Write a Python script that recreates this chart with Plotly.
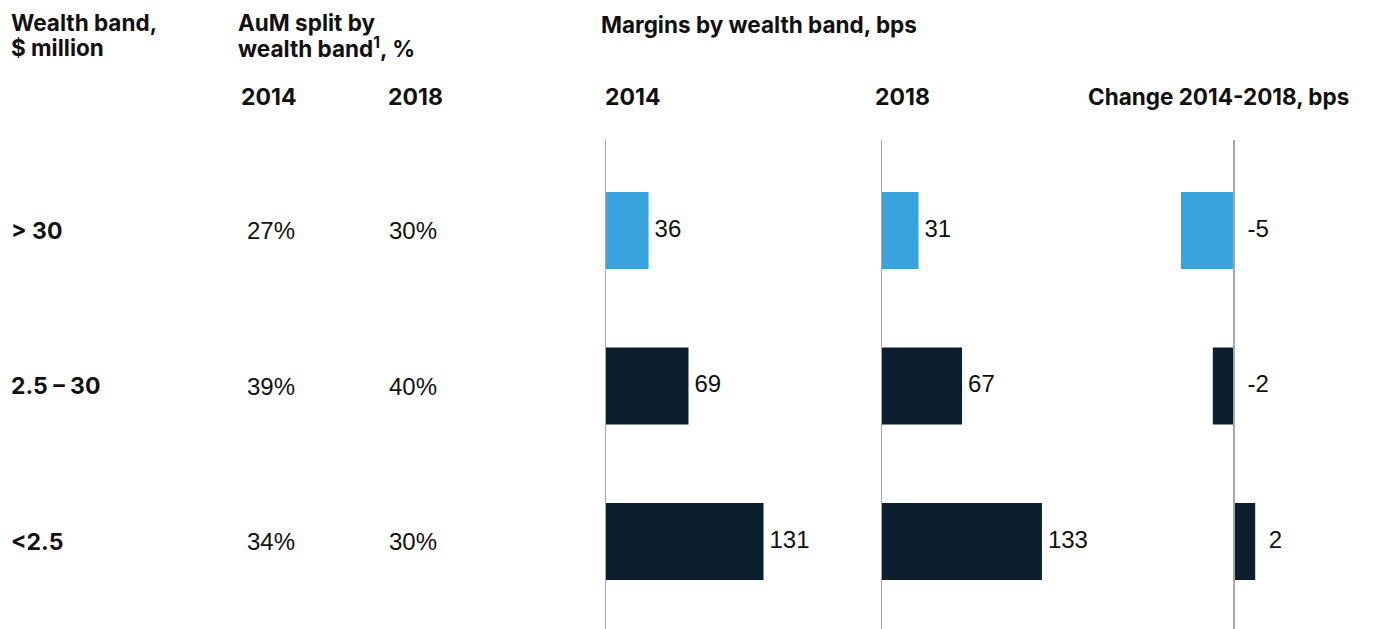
import plotly.graph_objects as go

bands = ["> 30", "2.5 – 30", "<2.5"]
aum_2014 = [27, 39, 34]
aum_2018 = [30, 40, 30]
margin_2014 = [36, 69, 131]
margin_2018 = [31, 67, 133]
change = [-5, -2, 2]
bar_colors = ["#38A3DC", "#0C1F2D", "#0C1F2D"]

# page body offset of the browser (8px) -> work in reference pixel coords
OFF = 8
W, H = 1375 - OFF, 629 - OFF
BOLD = "Inter"
REG = "Liberation Sans"
TXT = "#111111"


def px(x):
    return (x - OFF) / W


def py(y):
    return 1 - (y - OFF) / H


fig = go.Figure()

scale = 1.21  # px per bps
ytop, ybot = 140, 629
row_px = 155.5
first_center = 230.5
y0_val = -(first_center - ytop) / row_px
y1_val = y0_val + (ybot - ytop) / row_px

xaxes = {}
for ax, vals, zero_px in [("x", margin_2014, 605), ("x2", margin_2018, 881)]:
    width_px = 240
    xaxes[ax] = dict(domain=[px(zero_px), px(zero_px + width_px)],
                     range=[0, width_px / scale])
    fig.add_trace(go.Bar(
        x=vals, y=bands, orientation="h", xaxis=ax, yaxis="y",
        marker=dict(color=bar_colors, line=dict(width=0)),
        width=0.495, hoverinfo="skip", showlegend=False,
    ))
    fig.add_trace(go.Scatter(
        x=[v + 6 / scale for v in vals], y=bands, xaxis=ax, yaxis="y",
        mode="text", text=[str(v) for v in vals], textposition="middle right",
        textfont=dict(family=REG, size=24, color=TXT),
        cliponaxis=False, hoverinfo="skip", showlegend=False,
    ))

# change panel
cscale = 10.6
c_zero, c_left, c_right = 1234, 1090, 1375
xaxes["x3"] = dict(domain=[px(c_left), px(c_right)],
                   range=[-(c_zero - c_left) / cscale, (c_right - c_zero) / cscale])
fig.add_trace(go.Bar(
    x=change, y=bands, orientation="h", xaxis="x3", yaxis="y",
    marker=dict(color=bar_colors, line=dict(width=0)),
    width=0.495, hoverinfo="skip", showlegend=False,
))
fig.add_trace(go.Scatter(
    x=[max(v, 0) + 13.5 / cscale for v in change], y=bands, xaxis="x3", yaxis="y",
    mode="text", text=[str(v) for v in change], textposition="middle right",
    textfont=dict(family=REG, size=24, color=TXT),
    cliponaxis=False, hoverinfo="skip", showlegend=False,
))

axis_common = dict(showgrid=False, zeroline=False, showticklabels=False,
                   showline=False, ticks="", fixedrange=True, anchor="y")
layout = dict(
    width=W, height=H, margin=dict(l=0, r=0, t=0, b=0),
    paper_bgcolor="white", plot_bgcolor="rgba(0,0,0,0)",
    barmode="overlay", showlegend=False,
    yaxis=dict(domain=[0, py(ytop)], range=[y1_val, y0_val],
               type="category", categoryorder="array", categoryarray=bands,
               showgrid=False, zeroline=False, showticklabels=False,
               showline=False, ticks="", fixedrange=True),
)
for ax, d in xaxes.items():
    key = "xaxis" if ax == "x" else "xaxis" + ax[1:]
    layout[key] = dict(**axis_common, **d)
fig.update_layout(**layout)

# zero lines
for ax in ["x", "x2", "x3"]:
    fig.add_shape(type="line", xref=ax, yref="paper", x0=0, x1=0,
                  y0=0, y1=py(ytop), line=dict(color="#A8A8A8", width=2),
                  layer="above")


def ann(text, x, y, size=22.5, family=BOLD, bold=True, xanchor="left", yref="paper"):
    fig.add_annotation(
        text=f"<b>{text}</b>" if bold else text,
        x=x, y=y, xref="paper", yref=yref, xanchor=xanchor, yanchor="middle",
        showarrow=False, align="left",
        font=dict(family=family, size=size, color=TXT),
    )


# headers
ann("Wealth band,", px(9), py(23))
ann("$ million", px(9), py(48))
ann("AuM split by", px(236), py(23))
ann("wealth band<sup>1</sup>, %", px(236), py(48))
ann("Margins by wealth band, bps", px(599), py(24))
ann("2014", px(239), py(97), size=23)
ann("2018", px(386), py(97), size=23)
ann("2014", px(603), py(97), size=23)
ann("2018", px(873), py(97), size=23)
ann("Change 2014-2018, bps", px(1086), py(97))

# row labels and AuM values
for i, b in enumerate(bands):
    ann(b, px(9), b, size=23, yref="y")
    ann(f"{aum_2014[i]}%", px(271), b, size=24, family=REG, bold=False,
        xanchor="center", yref="y")
    ann(f"{aum_2018[i]}%", px(413), b, size=24, family=REG, bold=False,
        xanchor="center", yref="y")

fig.write_html("out.html")
